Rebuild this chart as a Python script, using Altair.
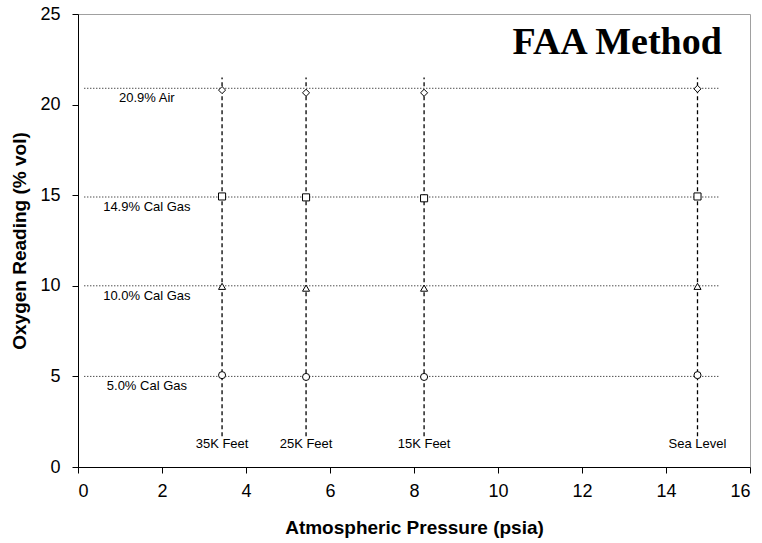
import altair as alt
import pandas as pd

# ---- data ----
pressures = [3.43, 5.43, 8.24, 14.75]            # psia
altitude_labels = ["35K Feet", "25K Feet", "15K Feet", "Sea Level"]
gas_levels = [20.9, 14.9, 10.0, 5.0]             # % vol
gas_labels = ["20.9% Air", "14.9% Cal Gas", "10.0% Cal Gas", "5.0% Cal Gas"]
gas_shapes = ["diamond", "square", "triangle-up", "circle"]
reading_air = [20.8, 20.65, 20.65, 20.87]
reading_149 = [14.93, 14.88, 14.83, 14.93]
reading_100 = [9.97, 9.87, 9.87, 9.97]
reading_50 = [5.07, 4.97, 4.97, 5.07]

readings = [reading_air, reading_149, reading_100, reading_50]

pts = pd.DataFrame(
    [
        {"p": p, "o2": r, "gas": g, "shape": s}
        for g, s, row in zip(gas_labels, gas_shapes, readings)
        for p, r in zip(pressures, row)
    ]
)
hlines = pd.DataFrame({"y": gas_levels, "x0": 0.15, "x1": 15.25, "label": gas_labels, "lx": 1.64})
vlines = pd.DataFrame({"x": pressures, "y0": 1.7, "y1": 21.5, "label": altitude_labels, "ly": 1.25})
title_df = pd.DataFrame({"x": [15.33], "y": [22.8], "t": ["FAA Method"]})

xs = alt.Scale(domain=[0, 16], nice=False, zero=False)
ys = alt.Scale(domain=[0, 25], nice=False, zero=False)

font = "Liberation Sans"

xaxis = alt.Axis(
    values=list(range(0, 17, 2)), title="Atmospheric Pressure (psia)", grid=False,
    labelFontSize=18, labelFont=font, labelColor="black", labelPadding=9,
    titleFontSize=19, titleFont=font, titleFontWeight="bold", titleColor="black", titlePadding=18,
    domainColor="black", tickColor="black", tickSize=6,
)
yaxis = alt.Axis(
    values=list(range(0, 26, 5)), title="Oxygen Reading (% vol)", grid=False,
    labelFontSize=18, labelFont=font, labelColor="black", labelPadding=12,
    titleFontSize=19, titleFont=font, titleFontWeight="bold", titleColor="black", titlePadding=10,
    domainColor="black", tickColor="black", tickSize=6,
)

h = alt.Chart(hlines).mark_rule(color="black", strokeDash=[1, 2], strokeWidth=1).encode(
    x=alt.X("x0:Q", scale=xs, axis=xaxis), x2="x1:Q", y=alt.Y("y:Q", scale=ys, axis=yaxis)
)
v = alt.Chart(vlines).mark_rule(color="black", strokeDash=[4, 3], strokeWidth=1.3).encode(
    x=alt.X("x:Q", scale=xs), y=alt.Y("y0:Q", scale=ys), y2="y1:Q"
)
hl = alt.Chart(hlines).mark_text(font=font, fontSize=13, color="black", align="center", baseline="middle", dy=10).encode(
    x=alt.X("lx:Q", scale=xs), y=alt.Y("y:Q", scale=ys), text="label:N"
)
vl = alt.Chart(vlines).mark_text(font=font, fontSize=13, color="black", align="center", baseline="middle").encode(
    x=alt.X("x:Q", scale=xs), y=alt.Y("ly:Q", scale=ys), text="label:N"
)
points = alt.Chart(pts).mark_point(filled=True, fill="white", stroke="black", strokeWidth=1, size=50, opacity=1).encode(
    x=alt.X("p:Q", scale=xs), y=alt.Y("o2:Q", scale=ys),
    shape=alt.Shape("shape:N", scale=None, legend=None),
)
title = alt.Chart(title_df).mark_text(
    font="Liberation Serif", fontSize=38, fontWeight="bold", color="black", align="right", baseline="alphabetic"
).encode(x=alt.X("x:Q", scale=xs), y=alt.Y("y:Q", scale=ys), text="t:N")

chart = (
    alt.layer(h, v, hl, vl, points, title)
    .properties(
        width=672, height=453,
        autosize=alt.AutoSizeParams(type="none"),
        padding={"left": 78, "top": 14, "right": 12, "bottom": 76},
        background="white",
    )
    .configure_view(stroke="#a0a0a0", strokeWidth=1)
)

chart.save("out.html", embed_options={"renderer": "svg", "actions": False})
